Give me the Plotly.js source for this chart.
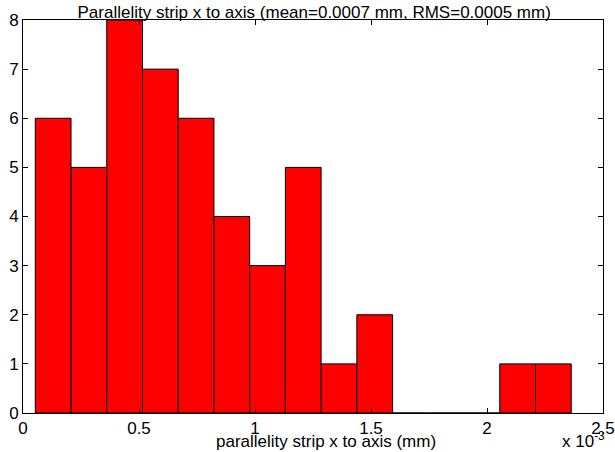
<!DOCTYPE html>
<html><head><meta charset="utf-8">
<script src="https://cdn.plot.ly/plotly-3.0.1.min.js"></script>
<style>body{margin:0;background:#fff}</style>
</head><body>
<div id="chart" style="width:615px;height:452px"></div>
<script>
// bin centers in mm
const binCenters = [0.000130, 0.000284, 0.000438, 0.000592, 0.000746, 0.000900, 0.001054, 0.001208, 0.001362, 0.001516, 0.001670, 0.001824, 0.001978, 0.002132, 0.002286];
const counts = [6, 5, 8, 7, 6, 4, 3, 5, 1, 2, 0, 0, 0, 1, 1];
const binWidth = 0.000154;
const xTickVals = [0, 0.0005, 0.001, 0.0015, 0.002, 0.0025];
const xTickText = ['0', '0.5', '1', '1.5', '2', '2.5'];
const yTickVals = [0, 1, 2, 3, 4, 5, 6, 7, 8];

const fam = 'Liberation Sans, Arial, sans-serif';
const font = {family: fam, size: 17, color: '#000'};

Plotly.newPlot('chart', [{
  type: 'bar',
  x: binCenters,
  y: counts,
  width: binCenters.map(() => binWidth),
  marker: {color: '#ff0000', line: {color: '#000', width: 1}},
  hoverinfo: 'x+y'
}], {
  width: 615, height: 452,
  margin: {l: 23, r: 12, t: 20, b: 39},
  paper_bgcolor: '#fff', plot_bgcolor: '#fff',
  font: font,
  showlegend: false,
  title: {text: 'Parallelity strip x to axis (mean=0.0007 mm, RMS=0.0005 mm)', font: font,
          x: 0.502, xanchor: 'center', xref: 'paper', y: 0.986, yanchor: 'top', yref: 'container', pad: {t: 0}},
  xaxis: {
    range: [0, 0.0025], tickvals: xTickVals, ticktext: xTickText,
    ticks: 'inside', ticklen: 5, tickcolor: '#000', showline: true, linecolor: '#000', linewidth: 1,
    mirror: 'ticks', showgrid: false, zeroline: false, tickfont: font
  },
  yaxis: {
    range: [0, 8], tickvals: yTickVals,
    ticks: 'inside', ticklen: 5, tickcolor: '#000', showline: true, linecolor: '#000', linewidth: 1,
    mirror: 'ticks', showgrid: false, zeroline: false, tickfont: font
  },
  annotations: [{
    text: 'parallelity strip x to axis (mm)', xref: 'paper', yref: 'paper', x: 0.523, y: -0.1,
    xanchor: 'center', yanchor: 'bottom', showarrow: false, font: font, borderpad: 0
  }, {
    text: 'x 10<sup>-3</sup>', xref: 'paper', yref: 'paper', x: 1.005, y: -0.098, xanchor: 'right', yanchor: 'bottom',
    showarrow: false, font: font, borderpad: 0
  }]
}, {displayModeBar: false, staticPlot: true});
</script>
</body></html>
